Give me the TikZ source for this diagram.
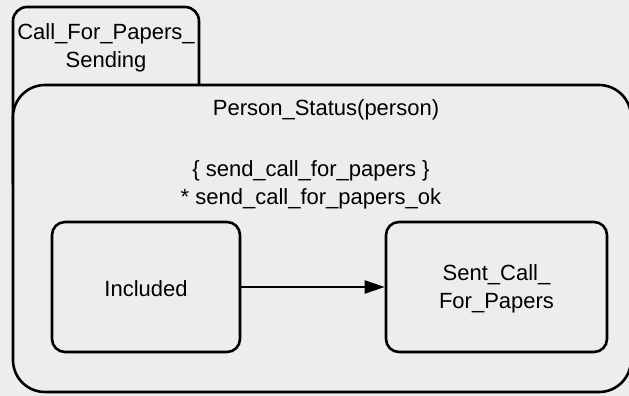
\documentclass[tikz,border=0pt]{standalone}
\usepackage{fontspec}
\setmainfont{Liberation Sans}
\usetikzlibrary{arrows.meta}
\definecolor{paper}{HTML}{EDEDED}
\tikzset{
  statebox/.style={draw=black, line width=2.6pt, fill=paper, rounded corners=#1, inner sep=0pt},
  statebox/.default=13pt,
  lbl/.style={font=\fontsize{22}{28}\selectfont, align=center, inner sep=0pt},
  trans/.style={line width=2.2pt, -{Triangle[length=20pt, width=13pt]}}
}
\begin{document}
\begin{tikzpicture}[x=1pt, y=-1pt]
  % page background and fixed frame
  \fill[paper] (0,0) rectangle (629,396);
  \useasboundingbox (0,0) rectangle (629,396);

  % parallel state, partly covered by the superstate below
  \node[statebox=14pt, minimum width=186pt, minimum height=190pt] (cfps) at (106,102) {};
  \node[lbl] (cfpsname) at (106,48) {Call\_For\_Papers\_\\Sending};

  % superstate
  \node[statebox=32pt, minimum width=618pt, minimum height=307pt] (pstat) at (322,238.5) {};
  \node[lbl] (pstatname) at (326,110) {Person\_Status(person)};
  \node[lbl] (pstatact) at (311,184.5) {\{ send\_call\_for\_papers \}\\* send\_call\_for\_papers\_ok};

  % substates
  \node[statebox=13pt, minimum width=188pt, minimum height=130pt] (incl) at (146,287) {};
  \node[lbl] (inclname) at (146,289) {Included};
  \node[statebox=13pt, minimum width=221pt, minimum height=130pt] (sent) at (496.5,287) {};
  \node[lbl] (sentname) at (496.5,289) {Sent\_Call\_\\For\_Papers};

  % transition
  \draw[trans] (incl.east) -- (sent.west);
\end{tikzpicture}
\end{document}
